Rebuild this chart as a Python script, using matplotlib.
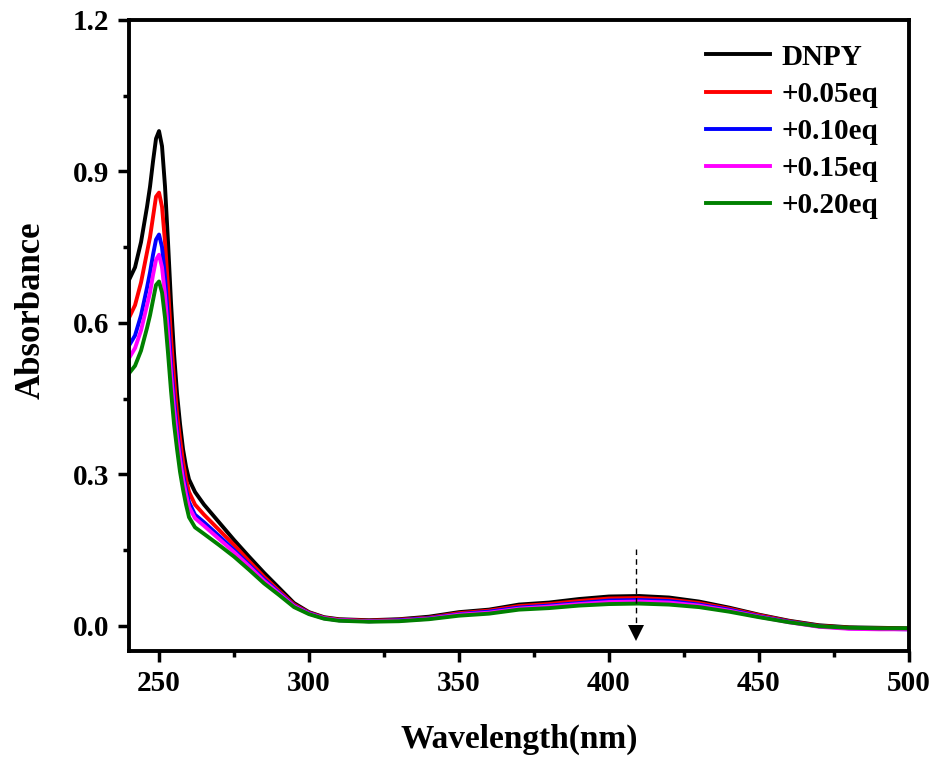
import matplotlib.pyplot as plt
import numpy as np
from matplotlib.ticker import MultipleLocator

plt.rcParams['font.family'] = ['Liberation Serif', 'DejaVu Serif']
plt.rcParams['font.weight'] = 'bold'

wl = [240, 242, 244, 246, 247, 248, 249, 250, 251, 252, 253, 254, 255, 256, 257, 258, 259, 260,
      262, 265, 270, 275, 280, 285, 290, 295, 300, 305, 310, 320, 330, 340, 350, 360, 370, 380,
      390, 400, 410, 420, 430, 440, 450, 460, 470, 480, 490, 500]

# absorbance
dnpy = [0.685, 0.71, 0.76, 0.83, 0.87, 0.92, 0.965, 0.98, 0.95, 0.87, 0.76, 0.64, 0.54, 0.46, 0.40, 0.35, 0.315, 0.29,
        0.265, 0.24, 0.205, 0.17, 0.137, 0.105, 0.075, 0.045, 0.027, 0.017, 0.013, 0.011, 0.013, 0.018, 0.027, 0.032, 0.042, 0.046,
        0.053, 0.058, 0.059, 0.056, 0.048, 0.036, 0.022, 0.01, 0.001, -0.003, -0.004, -0.005]
eq05 = [0.61, 0.635, 0.68, 0.74, 0.77, 0.81, 0.85, 0.858, 0.83, 0.76, 0.67, 0.57, 0.49, 0.42, 0.37, 0.325, 0.29, 0.265,
        0.24, 0.22, 0.19, 0.16, 0.128, 0.097, 0.069, 0.042, 0.026, 0.016, 0.012, 0.010, 0.012, 0.016, 0.025, 0.030, 0.039, 0.043,
        0.049, 0.054, 0.055, 0.052, 0.045, 0.034, 0.021, 0.009, 0.0, -0.004, -0.005, -0.006]
eq10 = [0.555, 0.575, 0.615, 0.67, 0.70, 0.735, 0.765, 0.775, 0.75, 0.69, 0.61, 0.52, 0.45, 0.39, 0.34, 0.30, 0.27, 0.245,
        0.22, 0.205, 0.178, 0.15, 0.121, 0.092, 0.066, 0.04, 0.025, 0.015, 0.011, 0.009, 0.011, 0.015, 0.023, 0.028, 0.036, 0.040,
        0.045, 0.050, 0.051, 0.049, 0.042, 0.032, 0.019, 0.008, -0.001, -0.005, -0.006, -0.007]
eq15 = [0.53, 0.55, 0.585, 0.635, 0.66, 0.695, 0.725, 0.735, 0.71, 0.655, 0.58, 0.50, 0.43, 0.375, 0.33, 0.29, 0.26, 0.235,
        0.213, 0.198, 0.172, 0.146, 0.118, 0.089, 0.064, 0.039, 0.024, 0.015, 0.011, 0.009, 0.010, 0.014, 0.022, 0.026, 0.034, 0.038,
        0.043, 0.047, 0.048, 0.046, 0.040, 0.030, 0.018, 0.007, -0.002, -0.006, -0.007, -0.007]
eq20 = [0.50, 0.515, 0.545, 0.59, 0.615, 0.645, 0.675, 0.682, 0.66, 0.61, 0.54, 0.465, 0.40, 0.35, 0.305, 0.27, 0.24, 0.215,
        0.195, 0.182, 0.16, 0.137, 0.111, 0.084, 0.061, 0.037, 0.023, 0.014, 0.010, 0.008, 0.009, 0.013, 0.020, 0.024, 0.032, 0.035,
        0.040, 0.043, 0.044, 0.042, 0.037, 0.028, 0.017, 0.007, -0.001, -0.004, -0.005, -0.005]

series = [dnpy, eq05, eq10, eq15, eq20]
labels = ['DNPY', '+0.05eq', '+0.10eq', '+0.15eq', '+0.20eq']
colors = ['black', 'red', 'blue', 'magenta', 'green']

fig = plt.figure(figsize=(9.37, 7.6), dpi=100)
ax = fig.add_axes([0.1377, 0.1434, 0.8324, 0.8303])

for y, lab, c in zip(series, labels, colors):
    ax.plot(wl, y, color=c, lw=2.8, label=lab, solid_joinstyle='round')

# arrow marking the decrease
ax.plot([409, 409], [0.153, -0.005], 'k--', lw=1, dashes=(4, 3))
ax.plot(409, -0.015, marker='v', ms=12, color='black', markeredgewidth=0)

ax.set_xlim(240, 500)
ax.set_ylim(-0.05, 1.2)
ax.xaxis.set_major_locator(MultipleLocator(50))
ax.xaxis.set_minor_locator(MultipleLocator(25))
ax.yaxis.set_major_locator(MultipleLocator(0.3))
ax.yaxis.set_minor_locator(MultipleLocator(0.15))
ax.yaxis.set_major_formatter(plt.FormatStrFormatter('%.1f'))
ax.tick_params(which='major', direction='out', length=8, width=2.5, labelsize=21, pad=6)
ax.tick_params(which='minor', direction='out', length=4, width=2.5)
for s in ax.spines.values():
    s.set_linewidth(2.8)

ax.set_xlabel('Wavelength(nm)', fontsize=24, fontweight='bold', labelpad=19)
ax.set_ylabel('Absorbance', fontsize=25, fontweight='bold')
ax.yaxis.set_label_coords(-0.104, 0.54)

leg = ax.legend(loc='upper right', bbox_to_anchor=(0.987, 0.995), frameon=False, fontsize=21,
                handlelength=2.2, labelspacing=0.35, borderaxespad=0.3, handletextpad=0.4)
for t in leg.get_texts():
    t.set_fontweight('bold')

fig.savefig('out.png', dpi=100)
